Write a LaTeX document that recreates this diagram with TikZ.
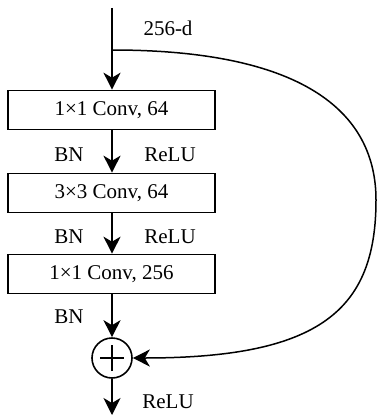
\documentclass[tikz,border=0pt]{standalone}
\usepackage{fontspec}
\setmainfont{Liberation Serif}
\usetikzlibrary{arrows.meta}
\begin{document}
\begin{tikzpicture}[x=1pt,y=-1pt,
  convbox/.style={draw,line width=1.6pt,minimum width=207pt,minimum height=39pt,inner sep=0pt,font=\fontsize{21}{23}\selectfont},
  lbl/.style={font=\fontsize{21}{23}\selectfont,inner sep=0pt},
  arr/.style={line width=1.5pt,-{Stealth[length=17pt,width=17pt,inset=5pt]}},
  plain/.style={line width=1.5pt}]
\useasboundingbox (0,0) rectangle (378,417);
\node[convbox] (b1) at (111.5,110) {1×1 Conv, 64};
\node[convbox] (b2) at (111.5,193) {3×3 Conv, 64};
\node[convbox] (b3) at (111.5,274) {1×1 Conv, 256};
\node[circle,draw,line width=1.6pt,minimum size=40pt,inner sep=0pt] (add) at (112,358) {};
\coordinate (top) at (112,8);
\coordinate (split) at (112,50);
\coordinate (out) at (112,415);
\draw[plain] (top) -- (split);
\draw[arr] (split) -- (b1.north -| split);
\draw[arr] (b1.south -| split) -- (b2.north -| split);
\draw[arr] (b2.south -| split) -- (b3.north -| split);
\draw[arr] (b3.south -| split) -- (add.north);
\draw[arr] (add.south) -- (out);
\draw[line width=1.6pt] ([xshift=-12pt]add.center) -- ([xshift=12pt]add.center);
\draw[line width=1.6pt] ([yshift=-13pt]add.center) -- ([yshift=13pt]add.center);
\draw[arr] (split) .. controls (300,50) and (376,110) .. (376,200)
  .. controls (376,310) and (320,358) .. (add.east);
\node[lbl] (d) at (168,28) {256-d};
\node[lbl] (bn1) at (69,155) {BN};
\node[lbl] (r1) at (170,155) {ReLU};
\node[lbl] (bn2) at (69,237) {BN};
\node[lbl] (r2) at (170,237) {ReLU};
\node[lbl] (bn3) at (69,317) {BN};
\node[lbl] (r3) at (168,402) {ReLU};
\end{tikzpicture}
\end{document}
